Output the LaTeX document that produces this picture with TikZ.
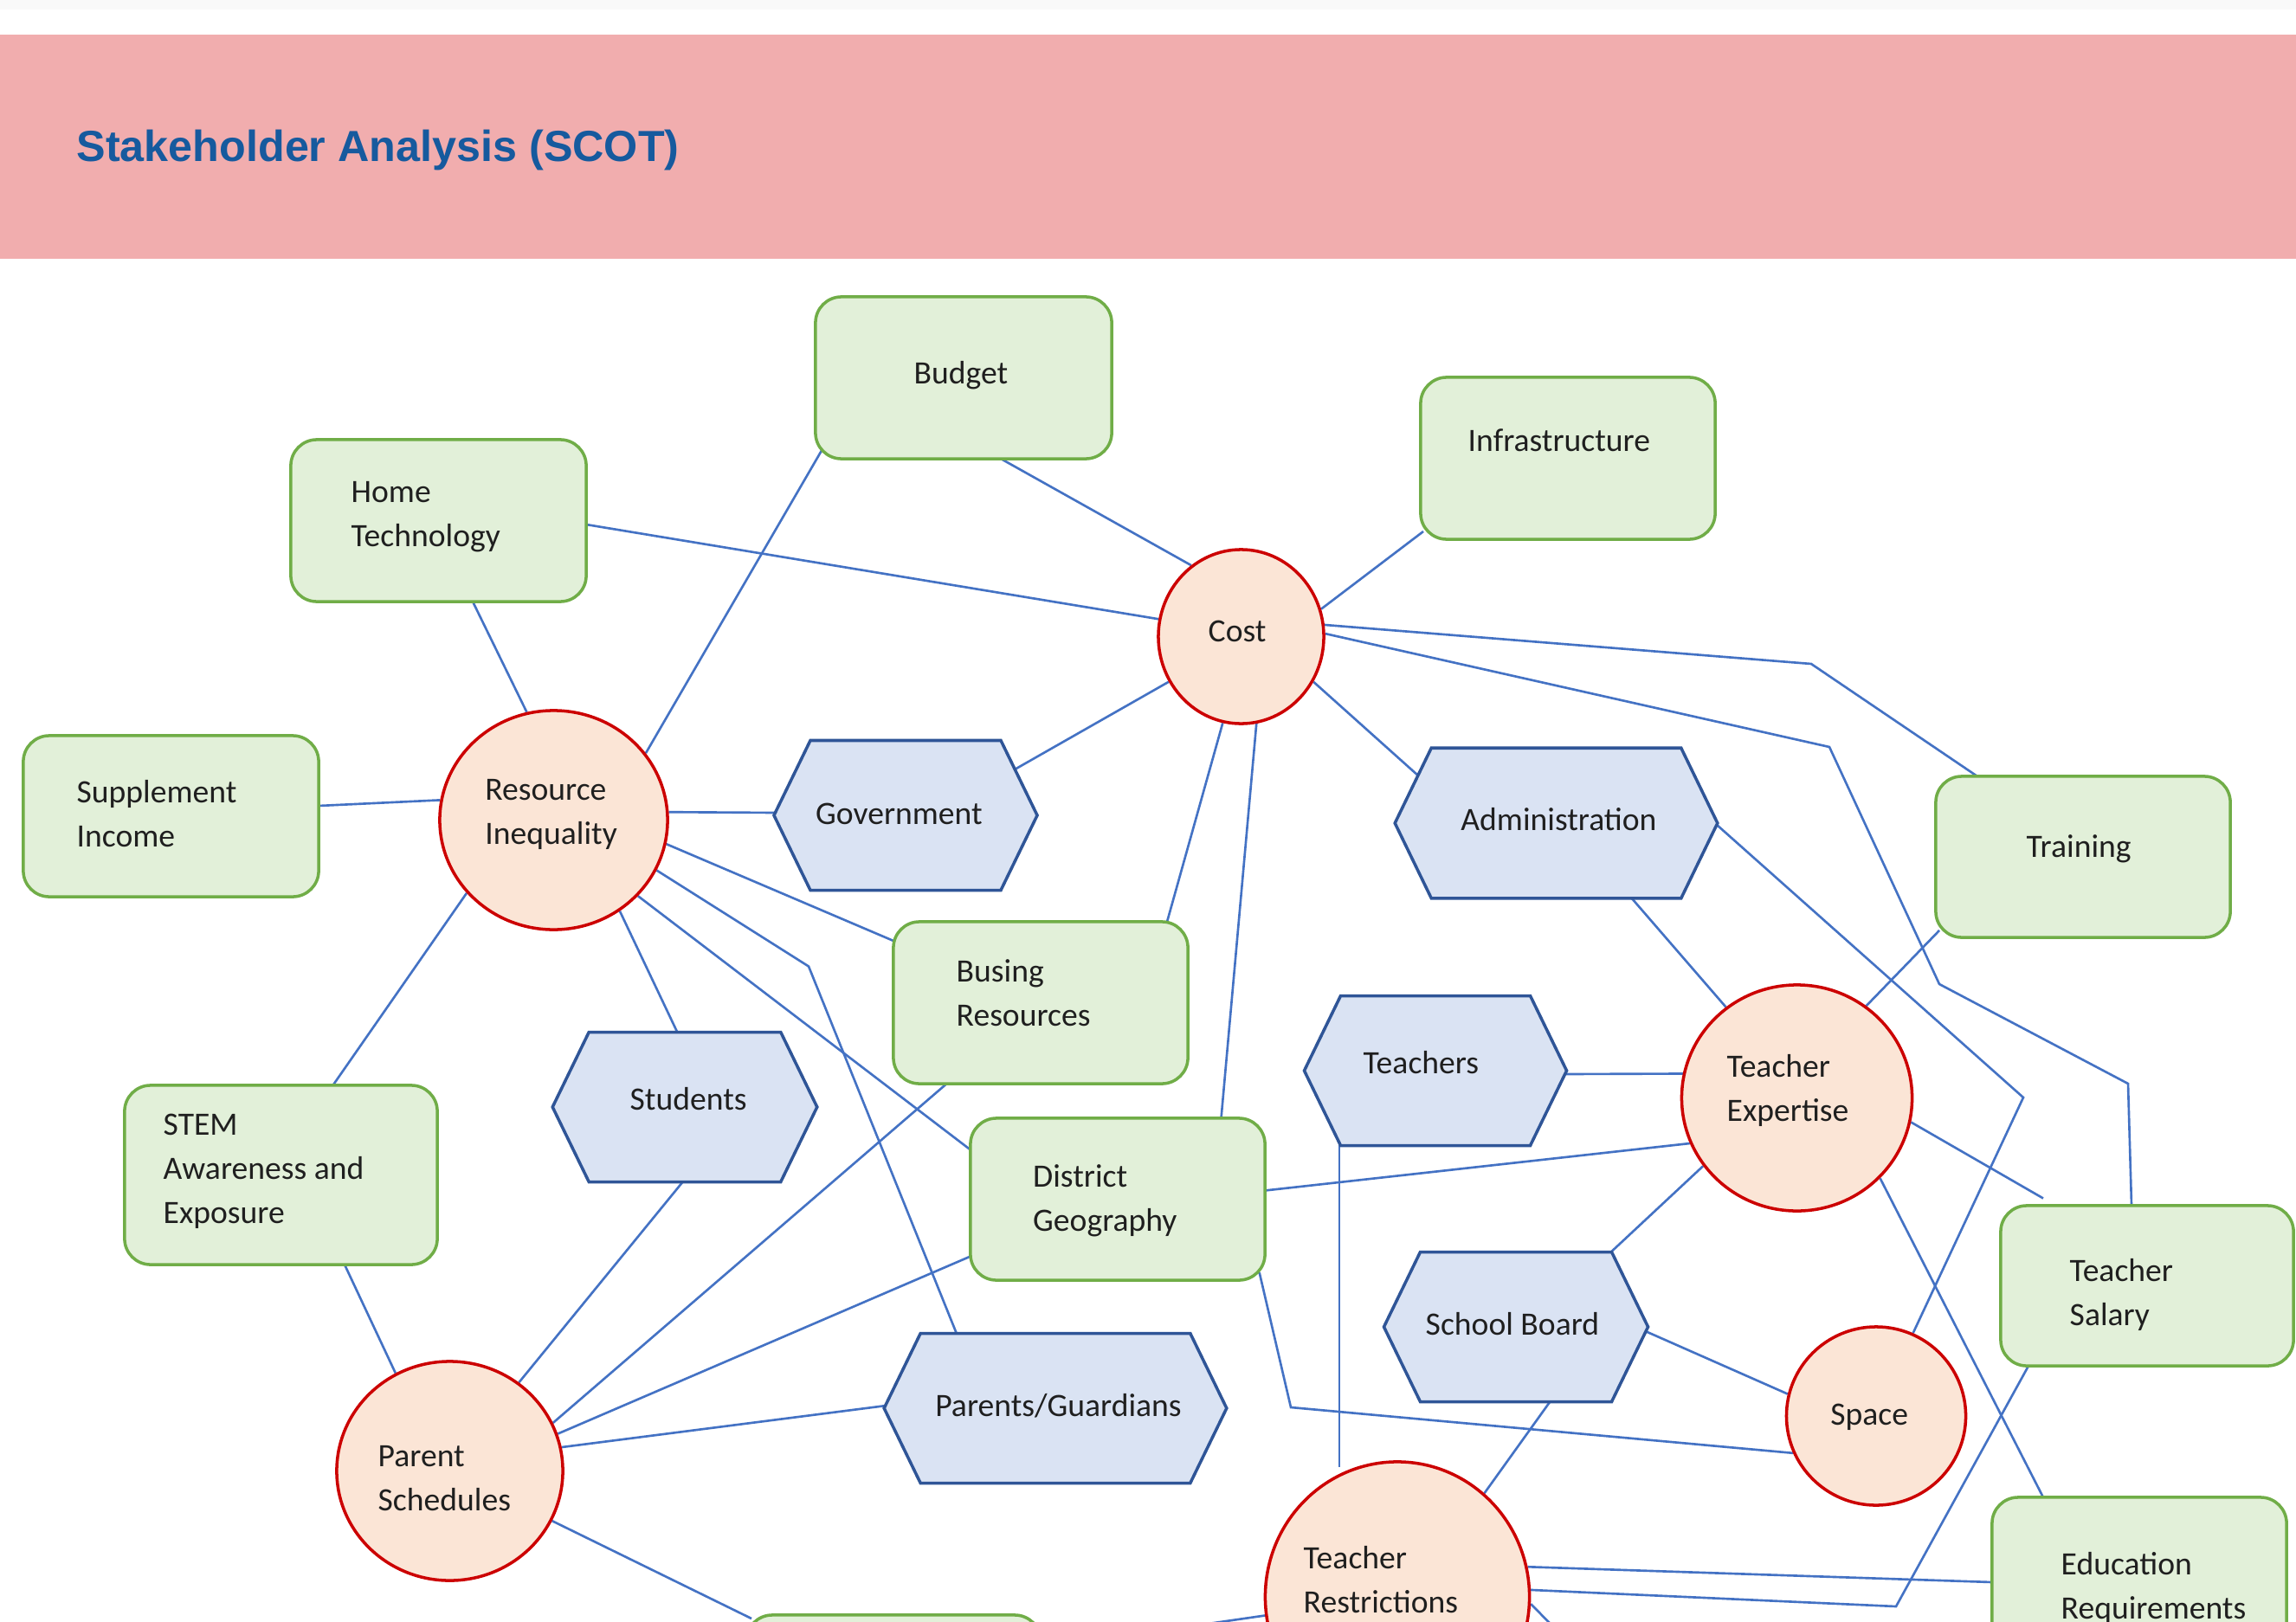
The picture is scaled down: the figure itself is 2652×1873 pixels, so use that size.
\documentclass[tikz,border=0pt]{standalone}
\usepackage{fontspec}
\setmainfont{Carlito}
\newfontfamily\titlefont{Liberation Sans}
\usetikzlibrary{shapes.geometric}
\pgfdeclarelayer{bg}
\pgfsetlayers{bg,main}
\definecolor{gfill}{HTML}{E2F0D9}
\definecolor{gline}{HTML}{70AD47}
\definecolor{rfill}{HTML}{FBE5D6}
\definecolor{rline}{HTML}{CC0000}
\definecolor{hfill}{HTML}{DAE3F3}
\definecolor{hline}{HTML}{2F5597}
\definecolor{linkcol}{HTML}{4472C4}
\definecolor{bandcol}{HTML}{F1ADAE}
\definecolor{titleblue}{HTML}{165A9E}
\tikzset{
  gbox/.style={rectangle, draw=gline, fill=gfill, line width=1pt, rounded corners=0.3cm, inner sep=0pt, minimum height=1.87cm},
  rcirc/.style={ellipse, draw=rline, fill=rfill, line width=1pt, inner sep=0pt},
  hexnode/.style={rectangle, inner sep=0pt, minimum height=1.715cm},
  hexline/.style={draw=hline, fill=hfill, line width=1pt, line join=miter},
  link/.style={draw=linkcol, line width=0.75pt},
  lbl/.style={anchor=north west, inner sep=0pt, align=left, font=\fontsize{10.7}{14.5}\selectfont, text=black!88}
}
\newcommand\hexdraw[1]{%
  \draw[hexline] (#1.west) -- ([xshift=0.42cm]#1.north west) -- ([xshift=-0.42cm]#1.north east) -- (#1.east) -- ([xshift=-0.42cm]#1.south east) -- ([xshift=0.42cm]#1.south west) -- cycle;}
\begin{document}
\begin{tikzpicture}[x=0.01cm,y=-0.01cm]
\useasboundingbox (0,0) rectangle (2652,1873);
% green boxes
\node[gbox, minimum width=3.42cm] (budget) at (1113,436.5) {};
\node[gbox, minimum width=3.41cm] (home) at (506.5,601.5) {};
\node[gbox, minimum width=3.40cm] (infra) at (1811,529.5) {};
\node[gbox, minimum width=3.41cm, minimum height=1.86cm] (supp) at (197.5,943) {};
\node[gbox, minimum width=3.40cm, minimum height=1.86cm] (training) at (2406,990) {};
\node[gbox, minimum width=3.40cm] (busing) at (1202,1158.5) {};
\node[gbox, minimum width=3.40cm] (district) at (1291,1385.5) {};
\node[gbox, minimum width=3.61cm, minimum height=2.07cm] (stem) at (324.5,1357.5) {};
\node[gbox, minimum width=3.38cm, minimum height=1.85cm] (salary) at (2480,1485.5) {};
\node[gbox, minimum width=3.40cm] (edu) at (2471,1823.5) {};
\node[gbox, minimum width=3.40cm] (bottombox) at (1032,1959.5) {};
% red circles
\node[rcirc, minimum width=2.63cm, minimum height=2.53cm] (ri) at (639.5,947.5) {};
\node[rcirc, minimum width=1.91cm, minimum height=2.01cm] (cost) at (1433.5,735.5) {};
\node[rcirc, minimum width=2.61cm, minimum height=2.53cm] (ps) at (519.5,1699.5) {};
\node[rcirc, minimum width=2.66cm, minimum height=2.61cm] (te) at (2075.5,1268.5) {};
\node[rcirc, minimum width=2.07cm, minimum height=2.06cm] (space) at (2167,1636) {};
\node[rcirc, minimum width=3.05cm, minimum height=3.12cm] (tr) at (1614,1845) {};
% hexagons
\node[hexnode, minimum width=3.025cm] (gov) at (1046,942) {};
\node[hexnode, minimum width=3.71cm, minimum height=1.72cm] (admin) at (1797.5,951) {};
\node[hexnode, minimum width=3.04cm] (students) at (791,1279) {};
\node[hexnode, minimum width=3.015cm] (teachers) at (1658,1237) {};
\node[hexnode, minimum width=3.035cm] (sb) at (1751,1533) {};
\node[hexnode, minimum width=3.94cm] (pg) at (1219,1627) {};
\hexdraw{gov}
\hexdraw{admin}
\hexdraw{students}
\hexdraw{teachers}
\hexdraw{sb}
\hexdraw{pg}
\coordinate (trfree) at (1830,1916);
% texts
\node[anchor=base west, inner sep=0pt, font=\titlefont\bfseries\fontsize{14.3}{17}\selectfont, text=titleblue] (title) at (88,187) {Stakeholder Analysis (SCOT)};
\node[lbl] (budget-t) at (1055,407) {\strut Budget};
\node[lbl] (home-t) at (405,544) {\strut Home\\\strut Technology};
\node[lbl] (infra-t) at (1695,485) {\strut Infrastructure};
\node[lbl] (supp-t) at (88,891.5) {\strut Supplement\\\strut Income};
\node[lbl] (training-t) at (2340,954) {\strut Training};
\node[lbl] (busing-t) at (1104,1098.5) {\strut Busing\\\strut Resources};
\node[lbl] (district-t) at (1192.5,1334.7) {\strut District\\\strut Geography};
\node[lbl] (stem-t) at (188,1275) {\strut STEM\\\strut Awareness and\\\strut Exposure};
\node[lbl] (salary-t) at (2390,1444) {\strut Teacher\\\strut Salary};
\node[lbl] (edu-t) at (2380,1782.7) {\strut Education\\\strut Requirements};
\node[lbl] (ri-t) at (559.7,887.7) {\strut Resource\\\strut Inequality};
\node[lbl] (cost-t) at (1395,705) {\strut Cost};
\node[lbl] (ps-t) at (436,1658.5) {\strut Parent\\\strut Schedules};
\node[lbl] (te-t) at (1994,1208) {\strut Teacher\\\strut Expertise};
\node[lbl] (space-t) at (2113.6,1609.7) {\strut Space};
\node[lbl] (tr-t) at (1505,1776) {\strut Teacher\\\strut Restrictions};
\node[lbl] (gov-t) at (941.5,916) {\strut Government};
\node[lbl] (admin-t) at (1686.7,923) {\strut Administration};
\node[lbl] (students-t) at (727,1246) {\strut Students};
\node[lbl] (teachers-t) at (1574,1204.5) {\strut Teachers};
\node[lbl] (sb-t) at (1646,1506) {\strut School Board};
\node[lbl] (pg-t) at (1079.6,1600) {\strut Parents/Guardians};
\begin{pgfonlayer}{bg}
\fill[white] (0,0) rectangle (2652,1873);
\fill[gray!5] (0,0) rectangle (2652,11);
\fill[bandcol] (0,40) rectangle (2652,299);
\draw[link] ([shift={(39.5,93.5)}]home.center) -- (ri.104);
\draw[link] ([shift={(170.5,4.5)}]home.center) -- (cost.168);
\draw[link] (ri.36) -- ([shift={(-164,84)}]budget.center);
\draw[link] ([shift={(43,93.5)}]budget.center) -- (cost.125);
\draw[link] ([shift={(-167,84.5)}]infra.center) -- (cost.19);
\draw[link] (cost.212) -- ([shift={(126,-53)}]gov.center);
\draw[link] (cost.-32) -- ([shift={(-159,-54.5)}]admin.center);
\draw[link] (cost.-102) -- ([shift={(146,-93.5)}]busing.center);
\draw[link] (cost.-80) -- ([shift={(119.5,-93.5)}]district.center);
\draw[link] (cost.8) -- (2092,767) -- ([shift={(-122,-93)}]training.center);
\draw[link] (cost.2) -- (2113,863) -- (2240,1137) -- (2458,1252) -- ([shift={(-18,-92.5)}]salary.center);
\draw[link] ([shift={(185.5,2)}]admin.center) -- (2337,1268) -- (space.66);
\draw[link] ([shift={(86.5,86)}]admin.center) -- (te.128);
\draw[link] ([shift={(-166,85)}]training.center) -- (te.53);
\draw[link] ([shift={(149,4)}]teachers.center) -- (te.168);
\draw[link] ([shift={(170,-10)}]district.center) -- (te.203);
\draw[link] (te.216) -- ([shift={(109,-85.75)}]sb.center);
\draw[link] (te.-12) -- ([shift={(-120,-101)}]salary.center);
\draw[link] (te.-44) -- ([shift={(-111,-93.5)}]edu.center);
\draw[link] ([shift={(149.5,5)}]sb.center) -- (space.166);
\draw[link] ([shift={(-137,92.5)}]salary.center) -- (2190,1856) -- (tr.3);
\draw[link] (tr.13) -- ([shift={(-170,4.5)}]edu.center);
\draw[link] ([shift={(-111,86)}]teachers.center) -- ([shift={(-67,-150)}]tr.center);
\draw[link] ([shift={(40,85.5)}]sb.center) -- (tr.50);
\draw[link] ([shift={(163.6,84.5)}]district.center) -- (1491,1626) -- (space.204);
\draw[link] (tr.188) -- ([shift={(170,-55.5)}]bottombox.center);
\draw[link] (tr.-3) -- (trfree);
\draw[link] ([shift={(170.5,-12)}]supp.center) -- (ri.170);
\draw[link] (ri.4) -- ([shift={(-150,-3)}]gov.center);
\draw[link] (ri.220) -- ([shift={(60,-103.5)}]stem.center);
\draw[link] ([shift={(73.5,103.5)}]stem.center) -- (ps.119);
\draw[link] (ri.-54) -- ([shift={(-8.5,-86)}]students.center);
\draw[link] (ri.-12) -- ([shift={(-170,-71.5)}]busing.center);
\draw[link] (ri.-26) -- (934,1116.5) -- ([shift={(-114,-86)}]pg.center);
\draw[link] (ri.-42) -- ([shift={(-170,-57)}]district.center);
\draw[link] ([shift={(-108.5,93.5)}]busing.center) -- (ps.25);
\draw[link] ([shift={(-2,86)}]students.center) -- (ps.52);
\draw[link] ([shift={(-170,66)}]district.center) -- (ps.19);
\draw[link] (ps.12) -- ([shift={(-195.5,-3)}]pg.center);
\draw[link] (ps.-26) -- ([shift={(-164,-89.5)}]bottombox.center);
\end{pgfonlayer}
\end{tikzpicture}
\end{document}
